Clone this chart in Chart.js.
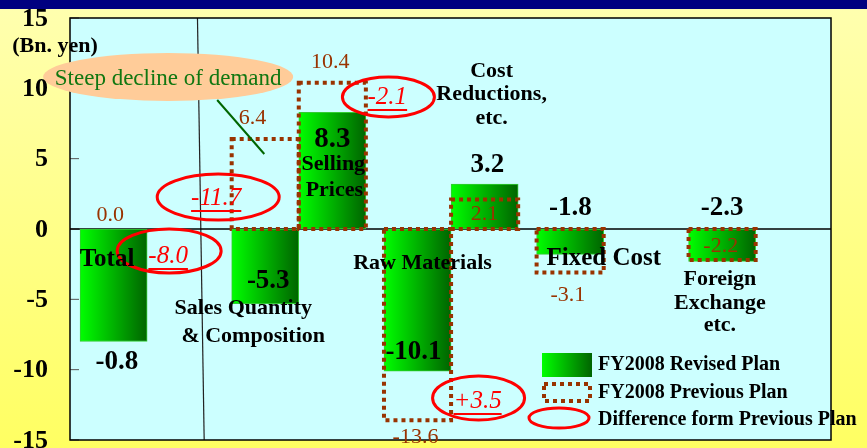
<!DOCTYPE html>
<html>
<head>
<meta charset="utf-8">
<script src="https://cdn.jsdelivr.net/npm/chart.js@4.4.0/dist/chart.umd.min.js"></script>
<style>
  html, body { margin: 0; padding: 0; }
  body {
    width: 867px; height: 448px; overflow: hidden;
    background: linear-gradient(#000080 0, #000080 9px, transparent 9px),
                linear-gradient(#ffffb0, #ffff62);
  }
  #wrap { position: relative; width: 867px; height: 448px; }
</style>
</head>
<body>
<div id="wrap"><canvas id="chart"></canvas></div>
<script>
// FY2008 operating income change factors (Bn. yen)
const categories = ['Total', 'Sales Quantity & Composition', 'Selling Prices', 'Raw Materials',
  'Cost Reductions, etc.', 'Fixed Cost', 'Foreign Exchange etc.'];
const revisedPlan = [-8.0, -5.3, 8.3, -10.1, 3.2, -1.8, -2.3];
const previousPlan = [0.0, 6.4, 10.4, -13.6, 2.1, -3.1, -2.2];
const differences = [-8.0, -11.7, -2.1, 3.5, null, null, null];
const revisedText = ['-0.8', '-5.3', '8.3', '-10.1', '3.2', '-1.8', '-2.3'];
const yTicks = [15, 10, 5, 0, -5, -10, -15];

// layout, in axis units (x: one bar width per unit, y: Bn. yen)
const slotX = [0.65, 2.91, 3.91, 5.18, 6.18, 7.455, 9.72];
const revLabelAt = [[0.70, -9.45], [2.955, -3.70], [3.91, 6.33], [5.12, -8.74], [6.22, 4.55], [7.46, 1.49], [9.72, 1.49]];
const prevLabelAt = [[0.60, 1.0], [2.72, 7.9], [3.88, 11.87], [5.15, -14.79], [6.18, 1.07], [7.42, -4.69], [9.70, -1.21]];
const diffTextAt = [[1.463, -1.92], [2.179, 2.20], [4.73, 9.38], [6.075, -12.23]];
const diffRingAt = [[1.478, -1.56, 52, 22], [2.209, 2.27, 61, 23], [4.746, 9.38, 46, 20], [6.09, -12.01, 46, 22]];
const nameLines = [
  { at: [[0.552, -2.20]], lines: ['Total'], size: 25 },
  { at: [[2.582, -5.62], [2.731, -7.61]], lines: ['Sales Quantity', '& Composition'], size: 22 },
  { at: [[3.925, 4.62], [3.94, 2.77]], lines: ['Selling', 'Prices'], size: 22 },
  { at: [[5.254, -2.42]], lines: ['Raw Materials'], size: 22 },
  { at: [[6.284, 11.23], [6.284, 9.60], [6.284, 7.89]], lines: ['Cost', 'Reductions,', 'etc.'], size: 22 },
  { at: [[7.955, -2.13]], lines: ['Fixed Cost'], size: 25 },
  { at: [[9.687, -3.55], [9.687, -5.26], [9.687, -6.82]], lines: ['Foreign', 'Exchange', 'etc.'], size: 22 }
];

const serif = '"Liberation Serif", "Times New Roman", serif';
const brown = '#993300';
const red = '#ff0000';

function greenGradient(ctx, x0, x1) {
  const g = ctx.createLinearGradient(x0, 0, x1, 0);
  g.addColorStop(0, '#00ff00');
  g.addColorStop(1, '#006400');
  return g;
}

function greenFill(c) {
  const chart = c.chart;
  if (!chart.chartArea || c.type !== 'data') return '#00cc00';
  const xs = chart.scales.x;
  const mid = xs.getPixelForValue(c.raw.x);
  const half = (xs.getPixelForValue(1) - xs.getPixelForValue(0)) / 2;
  return greenGradient(chart.ctx, mid - half, mid + half);
}

function text(ctx, str, x, y, font, color, align, underline) {
  ctx.font = font;
  ctx.fillStyle = color;
  ctx.textAlign = align || 'center';
  ctx.textBaseline = 'middle';
  ctx.fillText(str, x, y);
  if (underline) {
    const w = ctx.measureText(str).width;
    ctx.strokeStyle = color;
    ctx.lineWidth = 2;
    ctx.beginPath();
    ctx.moveTo(x - w / 2, y + 13);
    ctx.lineTo(x + w / 2, y + 13);
    ctx.stroke();
  }
}

function ring(ctx, cx, cy, rx, ry, stroke, fill) {
  ctx.beginPath();
  ctx.ellipse(cx, cy, rx, ry, 0, 0, Math.PI * 2);
  if (fill) { ctx.fillStyle = fill; ctx.fill(); }
  if (stroke) { ctx.strokeStyle = stroke; ctx.lineWidth = 3; ctx.stroke(); }
}

function dottedBox(ctx, x, y, w, h) {
  ctx.save();
  ctx.strokeStyle = brown;
  ctx.lineWidth = 4;
  ctx.setLineDash([4, 4]);
  ctx.strokeRect(x, y, w, h);
  ctx.restore();
}

const decor = {
  id: 'decor',
  beforeDatasetsDraw(chart) {
    const { ctx, chartArea: a, scales: { x, y } } = chart;
    ctx.save();
    ctx.fillStyle = '#ccffff';
    ctx.fillRect(a.left, a.top, a.right - a.left, a.bottom - a.top);

    ctx.strokeStyle = '#222';
    ctx.lineWidth = 1.2;
    ctx.beginPath();
    ctx.moveTo(x.getPixelForValue(1.9), a.top);
    ctx.lineTo(x.getPixelForValue(2.0), a.bottom);
    ctx.stroke();

    ctx.strokeStyle = '#555';
    ctx.lineWidth = 1;
    yTicks.forEach(v => {
      const py = y.getPixelForValue(v);
      ctx.beginPath();
      ctx.moveTo(a.left, py);
      ctx.lineTo(a.left + 9, py);
      ctx.stroke();
    });

    const y0 = y.getPixelForValue(0);
    ctx.strokeStyle = '#000';
    ctx.lineWidth = 1.5;
    ctx.beginPath();
    ctx.moveTo(a.left, y0);
    ctx.lineTo(a.right, y0);
    ctx.stroke();
    ctx.restore();
  },
  afterDatasetsDraw(chart) {
    const { ctx } = chart;
    chart.getDatasetMeta(1).data.forEach(bar => {
      const p = bar.getProps(['x', 'y', 'base', 'width'], true);
      const h = Math.abs(p.base - p.y);
      if (h < 1) return;
      dottedBox(ctx, p.x - p.width / 2, Math.min(p.y, p.base), p.width, h);
    });
  },
  afterDraw(chart) {
    const { ctx, chartArea: a, scales: { x, y } } = chart;
    const at = (xv, yv) => [x.getPixelForValue(xv), y.getPixelForValue(yv)];
    ctx.save();

    // plot frame
    ctx.strokeStyle = '#000';
    ctx.lineWidth = 1.5;
    ctx.strokeRect(a.left, a.top, a.right - a.left, a.bottom - a.top);

    // callout
    let [lx0, ly0] = at(2.194, 9.17);
    let [lx1, ly1] = at(2.896, 5.33);
    ctx.strokeStyle = '#006600';
    ctx.lineWidth = 2;
    ctx.beginPath();
    ctx.moveTo(lx0, ly0);
    ctx.lineTo(lx1, ly1);
    ctx.stroke();
    let [ex, ey] = at(1.463, 10.81);
    ring(ctx, ex, ey, 125, 24, null, '#ffcc99');
    text(ctx, 'Steep decline of demand', ex, ey + 2, `23px ${serif}`, '#117711');

    // differences from the previous plan
    differences.forEach((d, i) => {
      if (d === null) return;
      const [rx, ry] = at(diffRingAt[i][0], diffRingAt[i][1]);
      ring(ctx, rx, ry, diffRingAt[i][2], diffRingAt[i][3], red);
      const [tx, ty] = at(diffTextAt[i][0], diffTextAt[i][1]);
      text(ctx, (d > 0 ? '+' : '') + d.toFixed(1), tx, ty, `italic 25px ${serif}`, red, 'center', true);
    });

    previousPlan.forEach((v, i) => {
      const [tx, ty] = at(prevLabelAt[i][0], prevLabelAt[i][1]);
      text(ctx, v.toFixed(1), tx, ty, `22px ${serif}`, brown);
    });

    revisedText.forEach((s, i) => {
      const [tx, ty] = at(revLabelAt[i][0], revLabelAt[i][1]);
      text(ctx, s, tx, ty, `bold ${i === 2 ? 29 : 27}px ${serif}`, '#000');
    });

    nameLines.forEach(n => {
      n.lines.forEach((s, k) => {
        const [tx, ty] = at(n.at[k][0], n.at[k][1]);
        text(ctx, s, tx, ty, `bold ${n.size}px ${serif}`, '#000');
      });
    });

    // legend
    const lx = a.left + 472;
    ctx.fillStyle = greenGradient(ctx, lx, lx + 50);
    ctx.fillRect(lx, 353, 50, 24);
    dottedBox(ctx, lx + 2, 384, 46, 17);
    ring(ctx, lx + 17, 418, 30, 10, red);
    const legendFont = `bold 20px ${serif}`;
    text(ctx, 'FY2008 Revised Plan', lx + 56, 365, legendFont, '#000', 'left');
    text(ctx, 'FY2008 Previous Plan', lx + 56, 393, legendFont, '#000', 'left');
    text(ctx, 'Difference form Previous Plan', lx + 56, 420, legendFont, '#000', 'left');

    // value axis
    yTicks.forEach(v => {
      text(ctx, String(v), a.left - 22, y.getPixelForValue(v) + 1, `bold 26px ${serif}`, '#000', 'right');
    });
    text(ctx, '(Bn. yen)', 55, 46, `bold 22px ${serif}`, '#000');
    ctx.restore();
  }
};

const points = values => values.map((v, i) => ({ x: slotX[i], y: v }));

new Chart(document.getElementById('chart'), {
  type: 'bar',
  data: {
    datasets: [{
      label: 'FY2008 Revised Plan',
      data: points(revisedPlan),
      backgroundColor: greenFill,
      borderColor: '#33cc33',
      borderWidth: 1,
      borderSkipped: false,
      grouped: false,
      barPercentage: 1,
      categoryPercentage: 1
    }, {
      label: 'FY2008 Previous Plan',
      data: points(previousPlan),
      backgroundColor: 'rgba(0,0,0,0)',
      borderWidth: 0,
      grouped: false,
      barPercentage: 1,
      categoryPercentage: 1
    }]
  },
  options: {
    responsive: true,
    maintainAspectRatio: false,
    animation: false,
    layout: { padding: { left: 70, top: 18, right: 36, bottom: 8 } },
    scales: {
      x: {
        type: 'linear', min: 0, max: 11.343, offset: false, display: false,
        ticks: { stepSize: 1, includeBounds: false }
      },
      y: { min: -15, max: 15, display: false, ticks: { stepSize: 5 } }
    },
    plugins: {
      legend: { display: false },
      tooltip: { enabled: false }
    }
  },
  plugins: [decor]
});
</script>
</body>
</html>
